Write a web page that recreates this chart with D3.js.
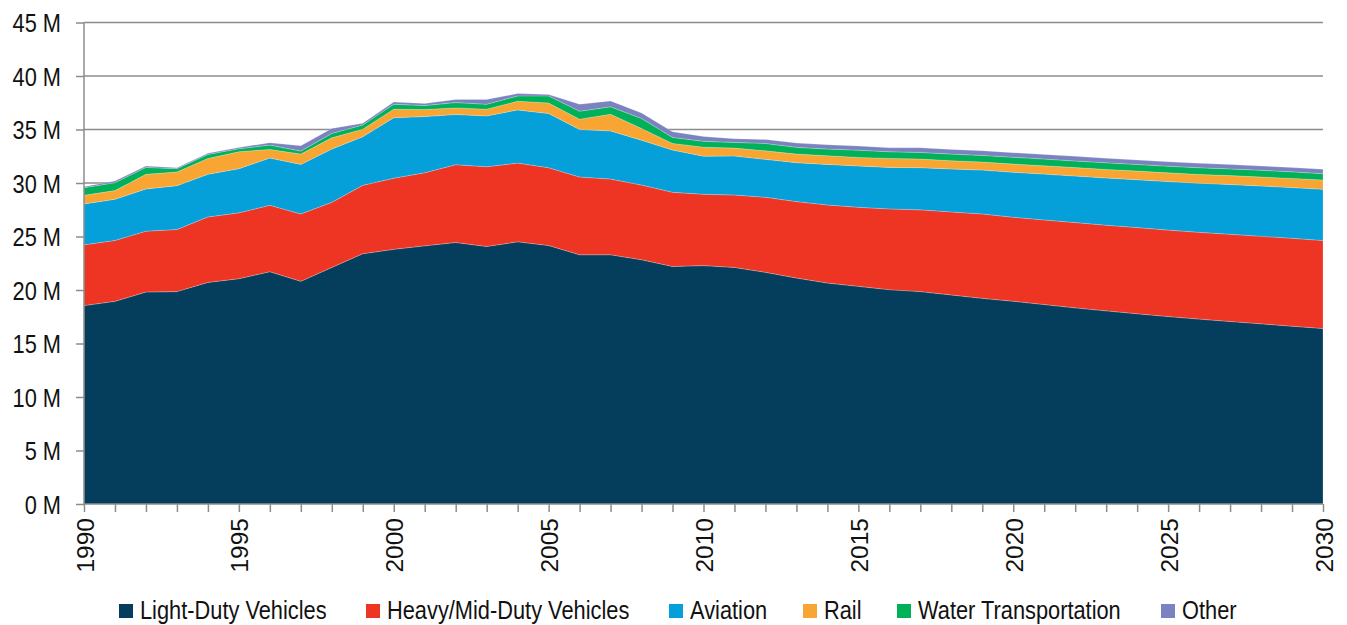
<!DOCTYPE html>
<html>
<head>
<meta charset="utf-8">
<script src="https://cdn.jsdelivr.net/npm/d3@7/dist/d3.min.js"></script>
<style>
  html, body { margin: 0; padding: 0; background: #fff; }
  svg { display: block; }
  text { font-family: "Liberation Sans", Arial, sans-serif; fill: #111; }
</style>
</head>
<body>
<svg id="chart" width="1347" height="625"></svg>
<script>
// ---- Data ----
const years = [1990,1991,1992,1993,1994,1995,1996,1997,1998,1999,
               2000,2001,2002,2003,2004,2005,2006,2007,2008,2009,
               2010,2011,2012,2013,2014,2015,2016,2017,2018,2019,
               2020,2021,2022,2023,2024,2025,2026,2027,2028,2029,2030];

const seriesNames = ["Light-Duty Vehicles","Heavy/Mid-Duty Vehicles","Aviation","Rail","Water Transportation","Other"];

const lightDuty = [18.54,18.94,19.81,19.85,20.71,21.06,21.71,20.81,22.11,23.39,
                   23.80,24.13,24.44,24.07,24.50,24.16,23.29,23.29,22.83,22.20,
                   22.28,22.11,21.65,21.12,20.65,20.34,20.03,19.85,19.54,19.22,
                   18.95,18.64,18.33,18.05,17.78,17.52,17.28,17.06,16.84,16.62,16.40];
const heavyDuty = [5.68,5.69,5.69,5.80,6.12,6.15,6.21,6.30,6.08,6.39,
                   6.65,6.83,7.27,7.45,7.36,7.27,7.27,7.08,6.98,6.93,
                   6.67,6.77,7.02,7.14,7.30,7.39,7.55,7.64,7.76,7.89,
                   7.85,7.91,7.97,8.01,8.05,8.08,8.11,8.15,8.18,8.21,8.23];
const aviation  = [3.82,3.85,3.94,4.10,3.98,4.13,4.41,4.63,4.98,4.54,
                   5.65,5.25,4.69,4.75,4.97,5.06,4.44,4.50,4.19,3.95,
                   3.56,3.64,3.54,3.64,3.79,3.86,3.88,3.94,4.01,4.10,
                   4.20,4.28,4.35,4.41,4.47,4.53,4.59,4.65,4.70,4.74,4.78];
const rail      = [0.81,0.81,1.37,1.28,1.49,1.58,0.81,0.96,1.05,0.71,
                   0.80,0.66,0.62,0.63,0.81,0.99,0.96,1.56,1.10,0.62,
                   0.84,0.74,0.80,0.80,0.81,0.80,0.84,0.81,0.77,0.75,
                   0.77,0.78,0.79,0.80,0.81,0.82,0.82,0.83,0.84,0.86,0.87];
const water     = [0.71,0.74,0.65,0.31,0.37,0.28,0.40,0.28,0.41,0.40,
                   0.46,0.37,0.50,0.46,0.50,0.66,0.75,0.69,0.93,0.56,
                   0.55,0.53,0.69,0.63,0.62,0.68,0.62,0.62,0.62,0.62,
                   0.64,0.63,0.62,0.62,0.62,0.62,0.63,0.63,0.63,0.61,0.59];
const other     = [0.10,0.16,0.12,0.09,0.10,0.12,0.22,0.50,0.47,0.16,
                   0.20,0.18,0.28,0.44,0.22,0.12,0.65,0.55,0.52,0.52,
                   0.45,0.34,0.37,0.40,0.40,0.38,0.37,0.43,0.44,0.43,
                   0.42,0.43,0.43,0.42,0.42,0.41,0.41,0.40,0.40,0.41,0.41];

const yTicks = [0,5,10,15,20,25,30,35,40,45];
const xLabelYears = [1990,1995,2000,2005,2010,2015,2020,2025,2030];

const colors = ["#053e5d","#ee3524","#059fd9","#f9a533","#00b159","#7b82c0"];

// ---- Build table ----
const seriesArrays = [lightDuty, heavyDuty, aviation, rail, water, other];
const table = years.map((yr, i) => {
  const row = { year: yr };
  seriesNames.forEach((n, k) => row[n] = seriesArrays[k][i]);
  return row;
});

// ---- Layout ----
const svg = d3.select("#chart");
const x = d3.scaleLinear().domain([1990, 2030]).range([84, 1323]);
const y = d3.scaleLinear().domain([0, 45]).range([504, 22.5]);
const axisColor = "#8c8c8c";

// gridlines
svg.append("g").selectAll("line").data(yTicks.filter(d => d > 0)).join("line")
  .attr("x1", x(1990)).attr("x2", x(2030))
  .attr("y1", d => y(d)).attr("y2", d => y(d))
  .attr("stroke", axisColor).attr("stroke-width", 1.5);

// stacked areas
const stack = d3.stack().keys(seriesNames);
const layers = stack(table);
const area = d3.area()
  .x(d => x(d.data.year))
  .y0(d => y(d[0]))
  .y1(d => y(d[1]));

svg.append("g").selectAll("path").data(layers).join("path")
  .attr("d", area)
  .attr("fill", (d, i) => colors[i])
  .attr("stroke", "rgba(255,255,255,0.35)")
  .attr("stroke-width", 0.6);

// y axis
const yAxis = d3.axisLeft(y).tickValues(yTicks).tickSize(8).tickFormat(d => d + " M");
const gy = svg.append("g").attr("transform", `translate(${x(1990)},0)`).call(yAxis);
gy.select(".domain").attr("stroke", axisColor).attr("stroke-width", 1.5).attr("d", `M0,${y(45)}V${y(0)}`);
gy.selectAll(".tick line").attr("stroke", axisColor).attr("stroke-width", 1.5);
gy.selectAll(".tick text")
  .attr("x", null).attr("dy", null)
  .attr("font-size", 25.5)
  .attr("font-family", "Liberation Sans, Arial, sans-serif")
  .attr("fill", "#111")
  .attr("text-anchor", "end")
  .attr("transform", "translate(-23,9) scale(0.855,1)");

// x axis
const xAxis = d3.axisBottom(x).tickValues(years).tickSize(8)
  .tickFormat(d => xLabelYears.includes(d) ? String(d) : "");
const gx = svg.append("g").attr("transform", `translate(0,${y(0)})`).call(xAxis);
gx.select(".domain").attr("stroke", axisColor).attr("stroke-width", 1.5).attr("d", `M${x(1990)},0H${x(2030)}`);
gx.selectAll(".tick line").attr("stroke", axisColor).attr("stroke-width", 1.5);
gx.selectAll(".tick text")
  .attr("y", null).attr("dy", null)
  .attr("font-size", 24.5)
  .attr("font-family", "Liberation Sans, Arial, sans-serif")
  .attr("fill", "#111")
  .attr("text-anchor", "end")
  .attr("transform", "translate(9,14) rotate(-90)");

// legend
const legendX = [119, 366, 669, 803, 897, 1161];
const lg = svg.append("g");
seriesNames.forEach((n, i) => {
  lg.append("rect").attr("x", legendX[i]).attr("y", 604).attr("width", 14).attr("height", 14).attr("fill", colors[i]);
  lg.append("text")
    .attr("transform", `translate(${legendX[i] + 21},618.5) scale(0.855,1)`)
    .attr("font-size", 25.5)
    .text(n);
});
</script>
</body>
</html>
